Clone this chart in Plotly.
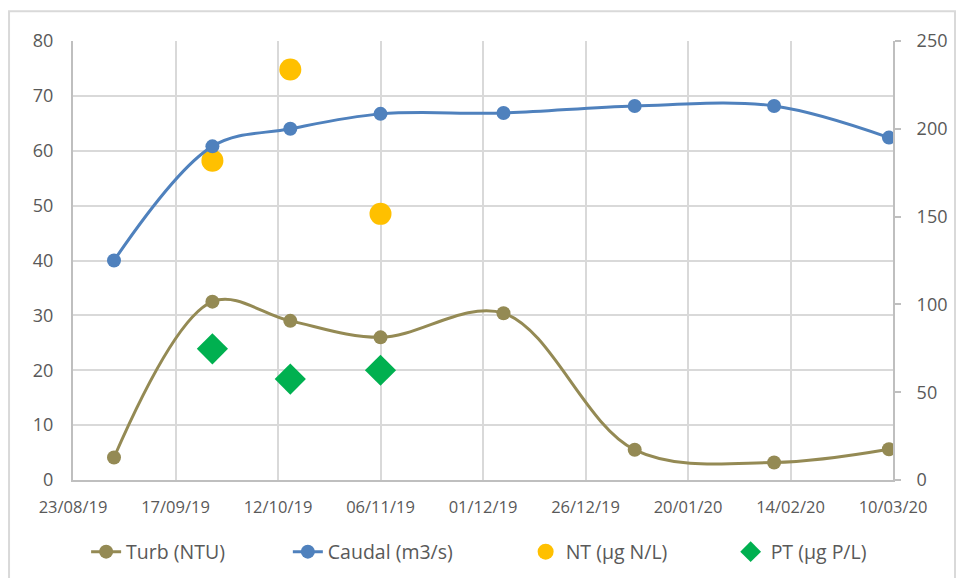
import plotly.graph_objects as go

# Sampling dates
dates = ["2019-09-02", "2019-09-26", "2019-10-15", "2019-11-06",
         "2019-12-06", "2020-01-07", "2020-02-10", "2020-03-09"]
# Turbidity (NTU), left axis
turb = [4.1, 32.5, 29.0, 26.0, 30.4, 5.5, 3.2, 5.6]
# Flow (m3/s), right axis
caudal = [125, 190, 200, 208.5, 209, 213, 213, 195]
# Total nitrogen and phosphorus (left axis), only three campaigns
nut_dates = ["2019-09-26", "2019-10-15", "2019-11-06"]
nt = [58.2, 74.8, 48.5]
pt = [23.9, 18.4, 20.0]

TURB_C = "#948A54"
CAUD_C = "#4F81BD"
NT_C = "#FFC000"
PT_C = "#00B050"
TXT = "#595959"
GRID = "#D9D9D9"
FONT = "Open Sans"

fig = go.Figure()
fig.add_trace(go.Scatter(
    x=dates, y=turb, name="Turb (NTU)", mode="lines+markers",
    line=dict(color=TURB_C, width=3, shape="spline", smoothing=1),
    marker=dict(color=TURB_C, size=14), yaxis="y", legend="legend"))
fig.add_trace(go.Scatter(
    x=dates, y=caudal, name="Caudal (m3/s)", mode="lines+markers",
    line=dict(color=CAUD_C, width=3, shape="spline", smoothing=1),
    marker=dict(color=CAUD_C, size=14), yaxis="y2", legend="legend2"))
fig.add_trace(go.Scatter(
    x=nut_dates, y=nt, name="NT (µg N/L)", mode="markers",
    marker=dict(color=NT_C, size=22, symbol="circle"), yaxis="y",
    legend="legend3"))
fig.add_trace(go.Scatter(
    x=nut_dates, y=pt, name="PT (µg P/L)", mode="markers",
    marker=dict(color=PT_C, size=24, symbol="diamond"), yaxis="y",
    legend="legend4"))

# One legend box per series so the entries sit spread across the bottom
def legend_at(xpos):
    return dict(orientation="h", x=xpos, xanchor="left", y=-0.164,
                yanchor="middle", font=dict(size=19.5, color=TXT),
                bgcolor="rgba(0,0,0,0)")

fig.update_layout(
    width=957, height=578,
    margin=dict(l=73, r=64, t=41, b=98, autoexpand=False),
    paper_bgcolor="white", plot_bgcolor="white",
    font=dict(family=FONT, color=TXT),
    showlegend=True,
    legend=legend_at(0.016),
    legend2=legend_at(0.262),
    legend3=legend_at(0.552),
    legend4=legend_at(0.802),
    xaxis=dict(
        type="date", range=["2019-08-23", "2020-03-10"],
        tick0="2019-08-23", dtick=25 * 86400000, tickformat="%d/%m/%y",
        showgrid=True, gridcolor=GRID, gridwidth=2,
        showline=True, linecolor="#BFBFBF", linewidth=2,
        ticks="", ticklabelstandoff=11,
        tickfont=dict(size=16.5, color=TXT), zeroline=False),
    yaxis=dict(
        range=[0, 80], dtick=10, showgrid=True, gridcolor=GRID, gridwidth=2,
        showline=True, linecolor="#BFBFBF", linewidth=2, ticks="",
        ticklabelstandoff=14,
        tickfont=dict(size=18, color=TXT), zeroline=False),
    yaxis2=dict(
        range=[0, 250], dtick=50, overlaying="y", side="right",
        showgrid=False, showline=True, linecolor="#BFBFBF", linewidth=2,
        ticks="outside", ticklen=6, tickcolor="#BFBFBF", tickwidth=2,
        ticklabelstandoff=12,
        tickfont=dict(size=18, color=TXT), zeroline=False),
)

# Light frame around the whole chart
fig.add_shape(type="rect", xref="paper", yref="paper",
              x0=-0.078, x1=1.0756, y0=-0.25, y1=1.068,
              line=dict(color=GRID, width=2), fillcolor="rgba(0,0,0,0)",
              layer="below")

fig.write_html("out.html")
